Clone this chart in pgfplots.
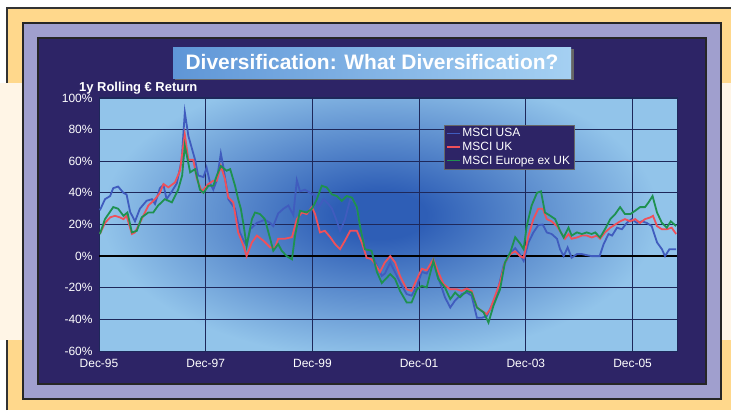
\documentclass[border=0pt]{standalone}
\usepackage{pgfplots}
\pgfplotsset{compat=1.18}
\usepackage{fontspec}
\setmainfont{Liberation Sans}
\definecolor{navy}{RGB}{45,36,102}
\definecolor{lav}{RGB}{160,159,206}
\definecolor{orng}{RGB}{255,216,140}
\definecolor{cream}{RGB}{255,245,230}
\definecolor{plotlight}{RGB}{146,196,234}
\definecolor{plotdark}{RGB}{46,94,182}
\definecolor{gridc}{RGB}{30,40,90}
\definecolor{usa}{RGB}{64,92,190}
\definecolor{uk}{RGB}{240,80,90}
\definecolor{eur}{RGB}{30,145,80}
\definecolor{titleL}{RGB}{95,150,215}
\definecolor{titleR}{RGB}{165,208,242}
\pgfdeclareradialshading{blob}{\pgfpoint{0bp}{0bp}}{color(0bp)=(plotdark); color(4bp)=(plotdark); color(24bp)=(plotlight); color(50bp)=(plotlight)}
\begin{document}
\begin{tikzpicture}
\begin{scope}[x=1bp,y=1bp]
\useasboundingbox (0,0) rectangle (731,410);
\fill[white] (0,0) rectangle (731,410);
\fill[orng] (7,0) rectangle (731,402);
\draw[black!80, line width=1.2bp] (7,0) -- (7,402) -- (731,402);
\fill[cream] (0,70) rectangle (731,327);
\fill[lav,draw=black!85,line width=1.5bp] (23,11) rectangle (721,387);
\fill[navy,draw=black!85,line width=1.5bp] (38,26) rectangle (706,372);
\begin{scope}
\clip (99,59) rectangle (677,312);
\fill[plotlight] (99,59) rectangle (677,312);
\shade[shading=blob] (380,195) ellipse (290 and 150);
\end{scope}
\fill[black!60] (175,330) rectangle (574,361);
\shade[left color=titleL, right color=titleR] (173,332) rectangle (571,363);
\node[white, font=\bfseries\fontsize{21}{24}\selectfont, inner sep=0pt] at (372,347.5) {Diversification: What Diversification?};
\node[anchor=base west, white, font=\bfseries\fontsize{13}{15}\selectfont, inner sep=0pt] at (79,319) {1y Rolling € Return};
\end{scope}
\begin{axis}[at={(99bp,59bp)}, anchor=south west, scale only axis,
  width=578bp, height=253bp,
  xmin=0, xmax=130, ymin=-60, ymax=100,
  xtick={0,24,48,72,96,120},
  xticklabels={Dec-95,Dec-97,Dec-99,Dec-01,Dec-03,Dec-05},
  ytick={-60,-40,-20,0,20,40,60,80,100},
  yticklabel={\pgfmathprintnumber{\tick}\%},
  /pgf/number format/assume math mode=true,
  tick label style={white, font=\fontsize{12}{14}\selectfont},
  xticklabel style={yshift=-5bp},
  yticklabel style={xshift=-3bp},
  major tick length=0pt,
  grid=major, major grid style={gridc, line width=0.9bp},
  axis line style={draw=gridc, line width=1bp},
  legend style={at={(0.597,0.893)}, anchor=north west, fill=navy, draw=black!60,
    text=white, font=\fontsize{12}{13}\selectfont, inner xsep=2bp, inner ysep=1bp,
    row sep=0bp, cells={anchor=west}},
  legend image code/.code={\draw[#1, line width=1.2bp] (0bp,0bp) -- (13bp,0bp);},
]
\draw[black, line width=1.6bp] (axis cs:0,0) -- (axis cs:130,0);
\addplot[usa, line width=1.8bp] coordinates {
(0.2,29) (1.35,36) (2.5,38) (3.2,43) (4.3,44) (5.5,40) (6.2,39) (7.0,28) (8.1,22) (9.2,30) (10.7,35) (11.9,36) (12.6,33) (13.7,43) (14.5,45) (15.2,36) (16.4,41) (17.5,46) (18.6,61) (19.3,91) (20.1,76) (20.9,68) (21.6,61) (22.3,51) (23.5,50) (24.2,56) (25.0,46) (25.7,42) (26.5,48) (27.4,65) (28.0,56) (29.1,36) (30.6,30) (31.7,15) (32.5,10) (33.2,6.5)
(34.0,17) (35.5,21) (37.3,23) (38.5,21) (39.2,19) (40.3,27) (41.5,30) (42.6,32) (43.7,26) (44.5,48) (45.2,41) (46.3,42) (47.5,40) (48.6,38) (49.3,30) (50.5,36) (51.6,33) (52.4,30) (53.5,22) (54.2,16) (55.3,23) (56.5,36) (57.6,34) (58.7,19) (59.8,6.5) (61.3,2) (62.5,-6) (63.6,-12.5) (64.3,-11) (65.5,-4) (67.7,-16.6) (69.2,-24) (70.3,-25) (71.5,-19) (72.6,-10) (73.7,-11) (75.2,-3) (76.3,-13.5) (77.8,-26) (79.0,-32.5) (80.1,-28) (81.6,-24) (82.7,-23) (83.8,-25) (85.0,-39) (86.1,-39) (87.2,-38) (88.3,-31.5) (89.5,-24) (91.0,-6) (92.5,2) (93.6,5) (94.7,1) (95.5,-3) (96.6,8.7) (97.7,15) (98.8,19.6) (99.8,20) (100.7,15) (101.8,14) (103.0,11) (103.7,4.4) (104.5,0) (105.4,5.5) (106.3,-1) (107.5,1.3) (108.6,1.3) (109.7,0.6) (110.8,0) (112.6,0) (113.5,7.6) (114.6,14) (115.4,13) (116.5,18) (117.6,17) (118.7,21) (119.8,23.4) (121.0,21) (122.1,22) (123.2,21) (124.3,19) (125.5,8.7) (126.6,4.4) (127.3,0) (128.3,4.4) (129.8,4.4)
};
\addlegendentry{MSCI USA}
\addplot[uk, line width=1.8bp] coordinates {
(0.2,14) (1.35,21) (2.5,24.5) (3.6,25.5) (4.7,24.5) (5.5,23.4) (6.2,25.5) (7.4,14) (8.1,15) (9.6,23.4) (11.1,32) (12.6,36) (13.7,40) (14.5,45.6) (15.6,43.5) (17.1,46.6) (18.2,54) (19.3,77) (20.1,61) (21.2,61) (22.0,49) (23.1,41) (24.6,45.6) (25.7,47.7) (26.5,47.7) (27.4,57) (28.3,49) (29.1,37) (30.2,34) (31.3,15) (32.5,6.5) (33.2,0) (34.4,8.7) (35.5,13) (37.0,9.7) (38.5,5.5) (39.6,5.5) (40.3,11) (41.8,11) (43.4,12) (44.5,23.4) (45.6,27.6) (46.7,26.6) (47.9,31) (48.6,26.6) (49.7,15) (50.8,16) (52.0,12) (53.1,7.6) (54.2,4.4) (55.3,9.7) (56.5,16) (58.0,16) (59.1,8.7) (60.2,-1) (61.3,-2) (62.1,-5) (63.2,-10) (64.3,-4) (65.5,0) (66.6,-4) (67.7,-12.5) (69.2,-21) (70.3,-22) (71.5,-14.5) (72.6,-8) (73.7,-9) (75.2,-2) (76.3,-10) (77.5,-17.7) (79.0,-21) (80.5,-21) (81.6,-22) (82.7,-20.5) (83.8,-22) (85.0,-32.5) (86.1,-34.6) (87.2,-36.7) (88.0,-33.5) (89.1,-25) (90.2,-16.6) (91.3,-4) (92.5,1.3) (93.6,3) (94.7,0) (95.5,-1) (96.6,13) (97.7,23.4) (98.8,30) (99.8,30) (100.7,23.4) (101.8,22) (103.0,19) (104.1,14) (104.8,11) (105.6,14) (106.3,11) (107.5,11.8) (108.6,13) (109.7,13) (110.8,11.8) (112.0,13) (112.7,11) (113.8,15) (115.0,18) (116.1,20) (117.2,22) (118.3,23.4) (119.5,22) (120.6,23.4) (121.7,21) (122.8,23.4) (124.0,24.5) (124.6,25.5) (125.5,19) (126.6,17) (127.7,17) (128.8,18) (129.8,14)
};
\addlegendentry{MSCI UK}
\addplot[eur, line width=1.8bp] coordinates {
(0.2,14) (1.35,23.4) (3.2,31) (4.3,30) (5.5,25.5) (6.4,27.6) (7.4,15) (8.5,16) (9.6,24.5) (11.1,27.6) (12.2,27.6) (13.3,32) (14.8,36) (16.4,34) (17.8,42) (18.7,51) (19.3,70) (20.5,53) (21.6,55) (22.7,42) (23.5,40) (24.6,44.5) (25.7,44.5) (26.5,51) (27.4,57) (28.7,54) (29.5,55) (30.6,44.5) (31.3,36) (31.9,30) (32.5,20) (33.2,6.5) (34.4,23.4) (35.1,27.6) (36.2,26.6) (37.3,23.4) (38.5,11) (39.2,3.4) (40.3,7.6) (41.1,3.4) (42.2,0) (43.4,-2) (44.1,13) (45.2,28.7) (46.7,27.6) (47.9,30) (49.0,36) (50.1,44.5) (51.2,43.5) (52.4,39) (53.5,38) (54.6,35) (55.7,38) (56.9,37) (58.0,31) (58.7,19) (59.8,4.4) (61.3,3.4) (62.5,-10) (63.6,-17) (65.5,-11.4) (66.6,-14.5) (67.7,-22) (69.2,-29.3) (70.3,-29.3) (71.5,-21) (72.6,-18.8) (73.7,-19.8) (75.2,-3) (76.3,-14.5) (77.8,-19.8) (79.0,-27.2) (80.1,-23) (81.2,-26) (82.7,-22) (83.8,-23) (85.0,-32.5) (86.5,-35.6) (87.6,-42) (88.7,-31.5) (90.2,-21) (91.3,-4) (92.5,2.3) (93.6,12) (94.7,8) (95.5,4.4) (96.2,19) (97.3,32) (98.5,40) (99.4,41) (100.3,27.6) (101.5,25.5) (102.6,23.4) (103.7,16) (104.5,11.8) (105.6,18) (106.3,13) (107.5,15) (108.6,14) (109.7,15) (110.8,14) (111.6,15) (112.7,11.8) (113.8,17) (115.0,23.4) (116.1,26.6) (117.2,31) (118.3,26.6) (119.5,26.6) (120.6,28.7) (121.7,31) (122.8,31) (123.6,34) (124.5,38) (125.5,27.6) (126.6,21) (127.7,18) (128.6,22) (129.8,19)
};
\addlegendentry{MSCI Europe ex UK}
\end{axis}
\end{tikzpicture}
\end{document}
